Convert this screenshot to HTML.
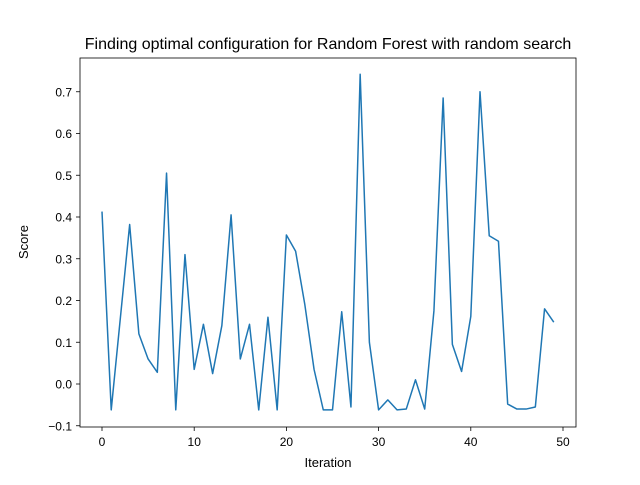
<!DOCTYPE html>
<html><head><meta charset="utf-8"><style>
body{margin:0;background:#fff;}
svg{font-family:"Liberation Sans","DejaVu Sans",sans-serif;}
</style></head><body>
<svg id="chart" width="640" height="480">
<rect width="640" height="480" fill="#fff"/>
<text x="328" y="49" text-anchor="middle" font-size="16">Finding optimal configuration for Random Forest with random search</text>
<g id="xt"></g>
<g id="yt"></g>
<polyline id="line" fill="none" stroke="#1f77b4" stroke-width="1.5" stroke-linejoin="round"/>
<rect x="80" y="58" width="496" height="369" fill="none" stroke="#000" stroke-width="0.8"/>
<text x="328" y="467" text-anchor="middle" font-size="13">Iteration</text>
<text transform="translate(28,242) rotate(-90)" text-anchor="middle" font-size="13">Score</text>
</svg>
<script>
const scores=[0.413,-0.062,0.16,0.382,0.12,0.06,0.028,0.505,-0.062,0.31,0.035,0.143,0.025,0.14,0.405,0.06,0.143,-0.062,0.16,-0.062,0.357,0.318,0.19,0.035,-0.062,-0.062,0.173,-0.055,0.742,0.1,-0.062,-0.038,-0.062,-0.06,0.01,-0.06,0.175,0.685,0.095,0.03,0.162,0.7,0.355,0.342,-0.048,-0.06,-0.06,-0.055,0.18,0.148];
const xTicks=[0,10,20,30,40,50];
const yTicks=[-0.1,0,0.1,0.2,0.3,0.4,0.5,0.6,0.7];
const ns="http://www.w3.org/2000/svg";
const X=i=>102+i*9.22;
const Y=v=>384-v*417.5;
document.getElementById('line').setAttribute('points',scores.map((v,i)=>X(i)+','+Y(v)).join(' '));
const xt=document.getElementById('xt'),yt=document.getElementById('yt');
xTicks.forEach(t=>{
const l=document.createElementNS(ns,'line');
l.setAttribute('x1',X(t));l.setAttribute('x2',X(t));l.setAttribute('y1',427);l.setAttribute('y2',431);l.setAttribute('stroke','#000');l.setAttribute('stroke-width','0.8');


xt.appendChild(l);
const s=document.createElementNS(ns,'text');
s.setAttribute('x',X(t));s.setAttribute('y',446);s.setAttribute('text-anchor','middle');s.setAttribute('font-size','12');s.textContent=t;


xt.appendChild(s);
});
yTicks.forEach(t=>{
const l=document.createElementNS(ns,'line');
l.setAttribute('x1',76);l.setAttribute('x2',80);l.setAttribute('y1',Y(t));l.setAttribute('y2',Y(t));l.setAttribute('stroke','#000');l.setAttribute('stroke-width','0.8');


yt.appendChild(l);
const s=document.createElementNS(ns,'text');
s.setAttribute('x',72);s.setAttribute('y',Y(t)+4.5);s.setAttribute('text-anchor','end');s.setAttribute('font-size','12');s.textContent=(t<0?'\u2212':'')+Math.abs(t).toFixed(1);


yt.appendChild(s);
});
</script>
</body></html>
